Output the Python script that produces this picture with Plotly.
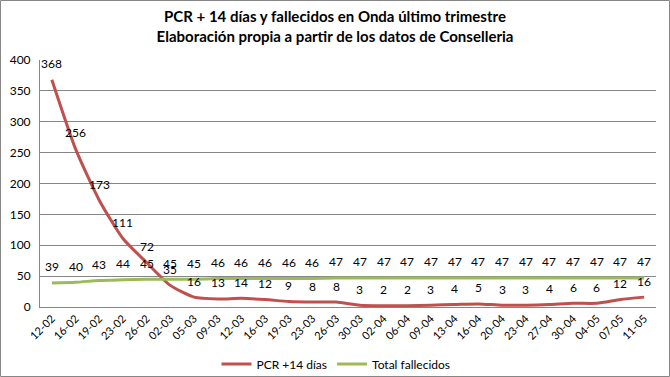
import plotly.graph_objects as go

dates = ["12-02","16-02","19-02","23-02","26-02","02-03","05-03","09-03","12-03","16-03",
         "19-03","23-03","26-03","30-03","02-04","06-04","09-04","13-04","16-04","20-04",
         "23-04","27-04","30-04","04-05","07-05","11-05"]
pcr = [368,256,173,111,72,35,16,13,14,12,9,8,8,3,2,2,3,4,5,3,3,4,6,6,12,16]
fallecidos = [39,40,43,44,45,45,45,46,46,46,46,46,47,47,47,47,47,47,47,47,47,47,47,47,47,47]
yticks = [0,50,100,150,200,250,300,350,400]

FONT = "Lato"
RED = "#C0504D"
GREEN = "#9BBB59"

fig = go.Figure()
fig.add_trace(go.Scatter(x=dates, y=pcr, name="PCR +14 días", mode="lines",
                         line=dict(color=RED, width=3, shape="spline", smoothing=0.6)))
fig.add_trace(go.Scatter(x=dates, y=fallecidos, name="Total fallecidos", mode="lines",
                         line=dict(color=GREEN, width=3, shape="spline", smoothing=0.6)))

for series in (pcr, fallecidos):
    for d, v in zip(dates, series):
        fig.add_annotation(x=d, y=v, text=str(v), showarrow=False, yshift=16,
                           font=dict(family=FONT, size=12, color="#000000"))

L, R, T, B = 40, 14, 60, 70
W, H = 670, 377
pw, ph = W - L - R, H - T - B
def px(x): return (x - L) / pw
def py(y): return (H - B - y) / ph

fig.update_layout(
    width=W, height=H,
    margin=dict(l=L, r=R, t=T, b=B, autoexpand=False),
    paper_bgcolor="white", plot_bgcolor="white",
    font=dict(family=FONT, size=12, color="#000000"),
    title=dict(text="PCR + 14 días y fallecidos en Onda último trimestre<br>Elaboración propia a partir de los datos de Conselleria",
               x=0.5, xanchor="center", y=1 - 22/H, yanchor="middle",
               font=dict(family=FONT, size=15, color="#000000", weight="bold")),
    showlegend=True,
    legend=dict(orientation="h", x=px(336), xanchor="center", y=py(364), yanchor="middle",
                font=dict(family=FONT, size=12, color="#000000"), bgcolor="rgba(0,0,0,0)",
                itemwidth=30, tracegroupgap=0),
    xaxis=dict(type="category", tickangle=-45, showgrid=False, showline=True, automargin=False,
               linecolor="#868686", linewidth=1, ticks="", tickfont=dict(family=FONT, size=11, color="#000000"),
               range=[-0.5, len(dates) - 0.5]),
    yaxis=dict(range=[0, 400], tickvals=yticks, showgrid=True, gridcolor="#868686", gridwidth=1,
               showline=True, linecolor="#868686", linewidth=1, zeroline=False, ticks="", automargin=False,
               tickfont=dict(family=FONT, size=12, color="#000000"), ticklabelstandoff=6),
)
fig.add_shape(type="rect", xref="paper", yref="paper",
              x0=px(0.5), x1=px(W - 0.5), y0=py(H - 0.5), y1=py(0.5),
              line=dict(color="#868686", width=1), layer="below")
fig.write_html("out.html", config={"displayModeBar": False},
               post_script="document.body.style.margin='0';document.body.style.overflow='hidden';")
